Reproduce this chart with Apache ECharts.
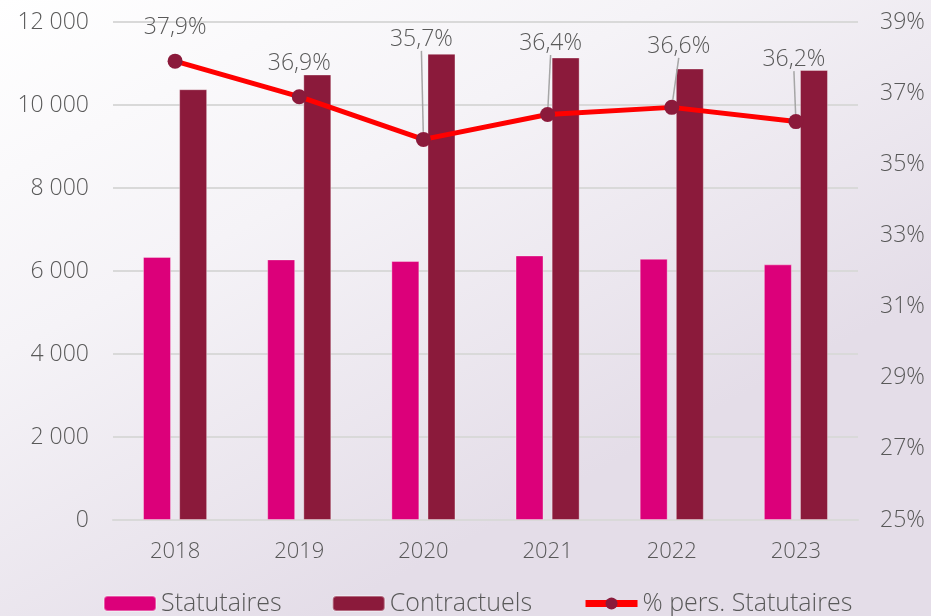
<!DOCTYPE html>
<html>
<head>
<meta charset="utf-8">
<script src="https://cdn.jsdelivr.net/npm/echarts@6/dist/echarts.min.js"></script>
<style>
  html, body { margin: 0; padding: 0; }
  #chart { width: 931px; height: 616px; }
</style>
</head>
<body>
<div id="chart"></div>
<script>
// Data
const years = ['2018', '2019', '2020', '2021', '2022', '2023']
const statutaires = [6340, 6280, 6240, 6375, 6295, 6160]
const contractuels = [10380, 10735, 11235, 11145, 10880, 10845]
const pctStatutaires = [37.9, 36.9, 35.7, 36.4, 36.6, 36.2]

const COL_STAT = '#dc007a'
const COL_CONT = '#8b1a3b'
const COL_LINE = '#ff0000'
const TEXT = '#595959'
const GRID = '#d9d9d9'
const FONT = 'Open Sans'
const WEIGHT = 300

// label nudges (dx, dy) so labels sit like the original, with leader lines
const labelShift = [[0, -10], [0, -9], [-2, -76], [3, -47], [7, -37], [-2, -38]]

const fmtThousands = v => String(v).replace(/\B(?=(\d{3})+(?!\d))/g, ' ')

const chart = echarts.init(document.getElementById('chart'))

chart.setOption({
  backgroundColor: new echarts.graphic.LinearGradient(0, 0, 0.35, 1, [
    { offset: 0, color: '#ffffff' },
    { offset: 0.45, color: '#f5f3f7' },
    { offset: 1, color: '#e4dde8' },
  ]),
  textStyle: { fontFamily: FONT, fontWeight: WEIGHT },
  legend: {
    bottom: -5,
    left: 98,
    itemWidth: 52,
    itemHeight: 15,
    itemGap: 50,
    textStyle: { color: TEXT, fontSize: 25, fontFamily: FONT, fontWeight: WEIGHT },
    data: [
      { name: 'Statutaires' },
      { name: 'Contractuels' },
      {
        name: '% pers. Statutaires',
        lineStyle: { color: COL_LINE, width: 7 },
        itemStyle: { color: COL_CONT },
      },
    ],
  },
  grid: { left: 113, right: 73, top: 22, bottom: 96 },
  xAxis: {
    type: 'category',
    data: years,
    axisLine: { lineStyle: { color: GRID, width: 2 } },
    axisTick: { show: false },
    axisLabel: { color: TEXT, fontSize: 22, margin: 21, fontFamily: FONT, fontWeight: WEIGHT },
  },
  yAxis: [
    {
      type: 'value',
      min: 0,
      max: 12000,
      interval: 2000,
      axisLine: { show: false },
      axisTick: { show: false },
      splitLine: { lineStyle: { color: GRID, width: 2 } },
      axisLabel: {
        color: TEXT, fontSize: 23, margin: 24, fontFamily: FONT, fontWeight: WEIGHT,
        formatter: v => fmtThousands(v),
      },
    },
    {
      type: 'value',
      min: 25,
      max: 39,
      interval: 2,
      axisLine: { show: false },
      axisTick: { show: false },
      splitLine: { show: false },
      axisLabel: {
        color: TEXT, fontSize: 23, margin: 22, fontFamily: FONT, fontWeight: WEIGHT,
        formatter: v => v + '%',
      },
    },
  ],
  series: [
    {
      name: 'Statutaires',
      type: 'bar',
      data: statutaires,
      barWidth: 28,
      barGap: '29%',
      itemStyle: { color: COL_STAT, borderColor: 'rgba(255,255,255,0.35)', borderWidth: 1 },
    },
    {
      name: 'Contractuels',
      type: 'bar',
      data: contractuels,
      barWidth: 28,
      itemStyle: { color: COL_CONT, borderColor: 'rgba(255,255,255,0.35)', borderWidth: 1 },
    },
    {
      name: '% pers. Statutaires',
      type: 'line',
      yAxisIndex: 1,
      z: 5,
      data: pctStatutaires.map((v, i) => ({
        value: v,
        labelLine: { show: i > 1 },
      })),
      symbol: 'circle',
      symbolSize: 15,
      lineStyle: { color: COL_LINE, width: 5 },
      itemStyle: { color: COL_CONT },
      label: {
        show: true,
        position: 'top',
        color: TEXT,
        fontSize: 23,
        fontFamily: FONT,
        fontWeight: WEIGHT,
        formatter: p => p.value.toFixed(1).replace('.', ',') + '%',
      },
      labelLine: { show: true, lineStyle: { color: '#a6a6a6', width: 1.5 } },
      labelLayout: p => ({ dx: labelShift[p.dataIndex][0], dy: labelShift[p.dataIndex][1] }),
    },
  ],
})
</script>
</body>
</html>
